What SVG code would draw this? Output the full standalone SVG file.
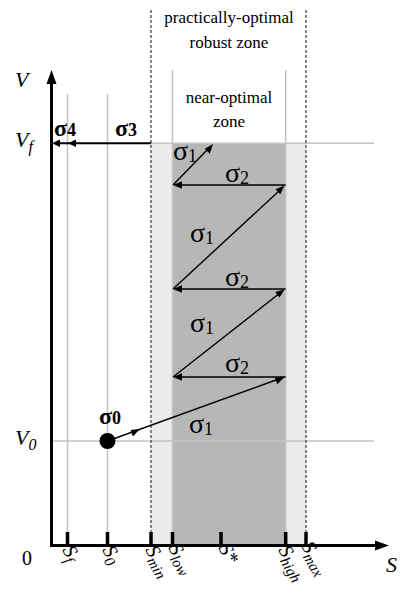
<svg xmlns="http://www.w3.org/2000/svg" width="400" height="595" viewBox="0 0 400 595">
<g id="zones">
<rect x="151" y="143" width="155" height="402" fill="#ebebeb"/>
<rect x="172.5" y="143" width="113.2" height="402" fill="#b7b7b7"/>
</g>
<g id="gridlines" stroke="#c4c4c4" stroke-width="1.5" fill="none">
<line x1="67.5" y1="94" x2="67.5" y2="545"/>
<line x1="107.5" y1="94" x2="107.5" y2="545"/>
<line x1="172.5" y1="70" x2="172.5" y2="545"/>
<line x1="285.7" y1="70" x2="285.7" y2="545"/>
<line x1="151" y1="143.3" x2="374" y2="143.3"/>
<line x1="51" y1="441" x2="374" y2="441"/>
</g>
<g id="zone-bounds" stroke="#444" stroke-width="1.3" stroke-dasharray="3,2" fill="none">
<line x1="151" y1="10" x2="151" y2="545"/>
<line x1="306" y1="10" x2="306" y2="545"/>
</g>
<text x="229" y="23" font-family="Liberation Serif" font-size="17" text-anchor="middle">practically-optimal</text>
<text x="229" y="48" font-family="Liberation Serif" font-size="17" text-anchor="middle">robust zone</text>
<text x="229" y="103" font-family="Liberation Serif" font-size="17" text-anchor="middle">near-optimal</text>
<text x="229" y="127" font-family="Liberation Serif" font-size="17" text-anchor="middle">zone</text>
<g id="axes">
<line x1="51.5" y1="547" x2="51.5" y2="82" stroke="#000" stroke-width="3"/>
<path d="M51.5,70 L56.5,84 L46.5,84 Z" fill="#000"/>
<line x1="50" y1="545.5" x2="377" y2="545.5" stroke="#000" stroke-width="3"/>
<path d="M389,545.5 L375,540.5 L375,550.5 Z" fill="#000"/>
<path d="M67.5,532V545M107.5,532V545M151,532V545M172.5,532V545M221,532V545M285.7,532V545M306,532V545" stroke="#000" stroke-width="3.5"/>
</g>
<text x="15" y="87" font-family="Liberation Serif" font-style="italic" font-size="22">V</text>
<text x="15" y="147" font-family="Liberation Serif" font-style="italic" font-size="22">V<tspan font-size="16" dy="5">f</tspan></text>
<text x="15" y="445" font-family="Liberation Serif" font-style="italic" font-size="22">V<tspan font-size="16" dy="5">0</tspan></text>
<text x="22" y="565" font-family="Liberation Serif" font-size="20">0</text>
<text x="386" y="572" font-family="Liberation Serif" font-style="italic" font-size="22">S</text>
<text font-family="Liberation Serif" font-style="italic" font-size="20" transform="translate(62,550) rotate(60)">S<tspan font-size="15" dy="4">f</tspan></text>
<text font-family="Liberation Serif" font-style="italic" font-size="20" transform="translate(102,550) rotate(60)">S<tspan font-size="15" dy="4">0</tspan></text>
<text font-family="Liberation Serif" font-style="italic" font-size="20" transform="translate(145,550) rotate(60)">S<tspan font-size="15" dy="4">min</tspan></text>
<text font-family="Liberation Serif" font-style="italic" font-size="20" transform="translate(168,548) rotate(60)">S<tspan font-size="15" dy="4">low</tspan></text>
<text font-family="Liberation Serif" font-style="italic" font-size="20" transform="translate(218,548) rotate(60)">S*</text>
<text font-family="Liberation Serif" font-style="italic" font-size="20" transform="translate(278,550) rotate(60)">S<tspan font-size="15" dy="4">high</tspan></text>
<text font-family="Liberation Serif" font-style="italic" font-size="20" transform="translate(301,546) rotate(60)">S<tspan font-size="15" dy="4">max</tspan></text>
<g id="connectors" stroke="#000" stroke-width="1.4" fill="none">
<line x1="151" y1="143.3" x2="56" y2="143.3" stroke-width="2"/>
<line x1="107.5" y1="441" x2="276" y2="380"/>
<line x1="285.7" y1="377" x2="181" y2="377"/>
<line x1="173" y1="377" x2="278" y2="294.5"/>
<line x1="285.7" y1="289" x2="181" y2="289"/>
<line x1="173" y1="289" x2="278.5" y2="191.5"/>
<line x1="285.7" y1="185" x2="181" y2="185"/>
<line x1="173" y1="185" x2="207.5" y2="149.5"/>
</g>
<g id="arrowheads" fill="#000">
<path d="M52,143.3 L60,139.5 L60,147 Z"/>
<path d="M68,143.3 L76,139.5 L76,147 Z"/>
<path d="M140,429.1 L130.5,429.9 L132.9,436.5 Z"/>
<path d="M284.5,377 L275,377.7 L277.3,384.2 Z"/>
<path d="M173,377 L182,373.3 L182,380.7 Z"/>
<path d="M284.5,289.5 L275.2,292.0 L279.5,297.5 Z"/>
<path d="M173,289 L182,285.3 L182,292.7 Z"/>
<path d="M284.5,185.5 L275.5,189.2 L280.3,194.3 Z"/>
<path d="M173,185 L182,181.3 L182,188.7 Z"/>
<path d="M213,144 L204.8,148.8 L209.8,153.7 Z"/>
</g>
<g id="start-node">
<circle cx="107.5" cy="441" r="8" fill="#000"/>
</g>
<text x="54" y="136" font-family="Liberation Serif" font-weight="bold" font-size="24">σ<tspan font-size="18">4</tspan></text>
<text x="115" y="136" font-family="Liberation Serif" font-weight="bold" font-size="24">σ<tspan font-size="18">3</tspan></text>
<text x="99" y="424" font-family="Liberation Serif" font-weight="bold" font-size="24">σ<tspan font-size="18">0</tspan></text>
<text x="173" y="160" font-family="Liberation Serif" font-size="28">σ<tspan font-size="18" dy="2">1</tspan></text>
<text x="225" y="182" font-family="Liberation Serif" font-size="28">σ<tspan font-size="18" dy="2">2</tspan></text>
<text x="190" y="242" font-family="Liberation Serif" font-size="28">σ<tspan font-size="18" dy="2">1</tspan></text>
<text x="225" y="286" font-family="Liberation Serif" font-size="28">σ<tspan font-size="18" dy="2">2</tspan></text>
<text x="190" y="332" font-family="Liberation Serif" font-size="28">σ<tspan font-size="18" dy="2">1</tspan></text>
<text x="225" y="372" font-family="Liberation Serif" font-size="28">σ<tspan font-size="18" dy="2">2</tspan></text>
<text x="189" y="433" font-family="Liberation Serif" font-size="28">σ<tspan font-size="18" dy="2">1</tspan></text>
</svg>
